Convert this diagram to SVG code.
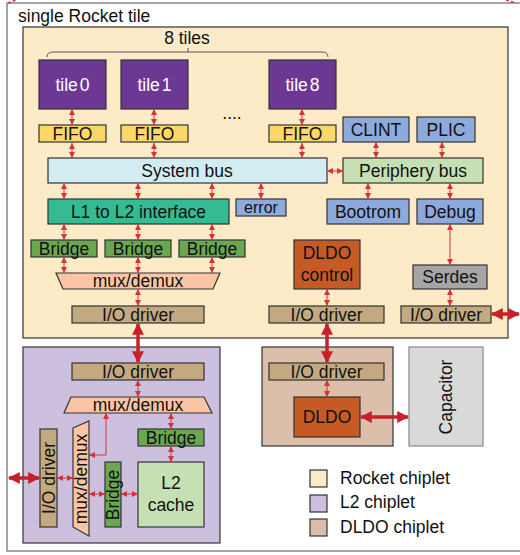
<svg xmlns="http://www.w3.org/2000/svg" width="520" height="555" viewBox="0 0 520 555">
<style>
text{font-family:"Liberation Sans",Arial,sans-serif;font-size:17.5px;fill:#111;text-anchor:middle}
.b{stroke:#333;stroke-width:1.2}
.w{fill:#fff}
.s{fill:none;stroke:#d3333a;stroke-width:1;marker-start:url(#ah);marker-end:url(#ah)}
.t{fill:none;stroke:#c8202a;stroke-width:3.5;marker-start:url(#ahT);marker-end:url(#ahT)}
.tile{fill:#6d3894}
.fifo{fill:#fdd866}
.blue{fill:#8eaadc}
.io{fill:#c3a97f}
.br{fill:#6aa84f}
.mux{fill:#fbc5a5}
.dl{fill:#c65a25}
</style>
<defs>
<marker id="ah" viewBox="0 0 10 10" refX="10" refY="5" markerWidth="6" markerHeight="6" markerUnits="userSpaceOnUse" orient="auto-start-reverse"><path d="M0,0 L10,5 L0,10 z" fill="#d3333a"/></marker>
<marker id="ahT" viewBox="0 0 10 10" refX="9" refY="5" markerWidth="12" markerHeight="12" markerUnits="userSpaceOnUse" orient="auto-start-reverse"><path d="M0,0 L10,5 L0,10 z" fill="#c8202a"/></marker>
</defs>
<rect x="0" y="0" width="520" height="555" fill="#fff"/>
<rect x="7" y="3" width="540" height="548" fill="#fff" stroke="#888" stroke-width="1.5"/>
<path d="M8,3 L16,0 M506,0 L516,3" stroke="#d3333a" stroke-width="1.5" stroke-dasharray="3,2" fill="none"/>
<text x="18" y="22" style="text-anchor:start">single Rocket tile</text>

<g id="rocket-chiplet">
<rect x="23" y="27" width="485" height="311" fill="#fdeac7" class="b"/>
</g>
<g id="l2-chiplet">
<rect x="23" y="347" width="197" height="196" fill="#cdc0df" class="b"/>
</g>
<g id="dldo-chiplet">
<rect x="262" y="347" width="131" height="99" fill="#dbbfab" class="b"/>
</g>

<g id="brace">
<path d="M47,57 Q47,52 53,52 L322,52 Q328,52 328,57 M188,52 V48" fill="none" stroke="#555" stroke-width="1"/>
<text x="187" y="44">8 tiles</text>
</g>

<g id="tile0"><rect x="39" y="60" width="67" height="49" class="b tile"/><text x="72.5" y="91" class="w">tile<tspan dx="2">0</tspan></text></g>
<g id="tile1"><rect x="121" y="60" width="67" height="49" class="b tile"/><text x="154.5" y="91" class="w">tile<tspan dx="2">1</tspan></text></g>
<g id="tile8"><rect x="269" y="60" width="67" height="49" class="b tile"/><text x="302.5" y="91" class="w">tile<tspan dx="2">8</tspan></text></g>
<g id="dots"><text x="232" y="119">....</text></g>

<g id="fifo0"><rect x="39" y="125" width="67" height="17" class="b fifo"/><text x="72.5" y="140">FIFO</text></g>
<g id="fifo1"><rect x="121" y="125" width="67" height="17" class="b fifo"/><text x="154.5" y="140">FIFO</text></g>
<g id="fifo8"><rect x="269" y="125" width="67" height="17" class="b fifo"/><text x="302.5" y="140">FIFO</text></g>
<g id="clint"><rect x="343" y="117" width="66" height="25" class="b blue"/><text x="376" y="136">CLINT</text></g>
<g id="plic"><rect x="417" y="117" width="58" height="25" class="b blue"/><text x="446" y="136">PLIC</text></g>

<g id="system-bus"><rect x="48" y="158" width="279" height="25" fill="#d3ecf2" class="b"/><text x="187" y="177">System bus</text></g>
<g id="periphery-bus"><rect x="343" y="158" width="140" height="25" fill="#c6e0b4" class="b"/><text x="413" y="177">Periphery bus</text></g>

<g id="l1-l2"><rect x="48" y="199" width="181" height="25" fill="#35bb94" class="b"/><text x="138.5" y="217.5">L1 to L2 interface</text></g>
<g id="error"><rect x="236" y="199" width="50" height="17" class="b blue"/><text x="261" y="213" style="font-size:16px">error</text></g>
<g id="bootrom"><rect x="327" y="199" width="82" height="25" class="b blue"/><text x="368" y="217.5">Bootrom</text></g>
<g id="debug"><rect x="417" y="199" width="66" height="25" class="b blue"/><text x="450" y="217.5">Debug</text></g>

<g id="bridge1"><rect x="31" y="240" width="66" height="17" class="b br"/><text x="64" y="255">Bridge</text></g>
<g id="bridge2"><rect x="105" y="240" width="66" height="17" class="b br"/><text x="138" y="255">Bridge</text></g>
<g id="bridge3"><rect x="179" y="240" width="66" height="17" class="b br"/><text x="212" y="255">Bridge</text></g>

<g id="mux-rocket"><polygon points="56,273 220,273 213,289 63,289" class="b mux"/><text x="138" y="287">mux/demux</text></g>
<g id="io-rocket-1"><rect x="72" y="306" width="132" height="17" class="b io"/><text x="138" y="320.5">I/O driver</text></g>

<g id="dldo-control"><rect x="294" y="240" width="66" height="49" class="b dl"/><text x="327" y="259">DLDO</text><text x="327" y="281">control</text></g>
<g id="serdes"><rect x="413" y="265" width="74" height="24" fill="#a6a6a6" class="b"/><text x="450" y="283">Serdes</text></g>
<g id="io-rocket-2"><rect x="269" y="306" width="115" height="17" class="b io"/><text x="326.5" y="320.5">I/O driver</text></g>
<g id="io-rocket-3"><rect x="401" y="306" width="90" height="17" class="b io"/><text x="446" y="320.5">I/O driver</text></g>

<g id="io-l2"><rect x="72" y="363" width="132" height="17" class="b io"/><text x="138" y="377.5">I/O driver</text></g>
<g id="mux-l2"><polygon points="71,397 204,397 212,413 64,413" class="b mux"/><text x="138" y="410.5">mux/demux</text></g>
<g id="bridge-l2"><rect x="138" y="429" width="66" height="17" class="b br"/><text x="171" y="443.5">Bridge</text></g>
<g id="l2-cache"><rect x="138" y="462" width="66" height="65" fill="#c6e0b4" class="b"/><text x="171" y="489">L2</text><text x="171" y="511">cache</text></g>
<g id="io-l2-v"><rect x="40" y="429" width="17" height="98" class="b io"/><text transform="translate(54.5,478) rotate(-90)">I/O driver</text></g>
<g id="mux-l2-v"><polygon points="73,428 89,421 89,536 73,527" class="b mux"/><text transform="translate(87,479) rotate(-90)">mux/demux</text></g>
<g id="bridge-l2-v"><rect x="105" y="462" width="16" height="65" class="b br"/><text transform="translate(119,495) rotate(-90)">Bridge</text></g>

<g id="io-dldo"><rect x="269" y="363" width="115" height="17" class="b io"/><text x="326.5" y="377.5">I/O driver</text></g>
<g id="dldo"><rect x="294" y="397" width="66" height="40" class="b dl"/><text x="327" y="423">DLDO</text></g>
<g id="capacitor"><rect x="409" y="347" width="74" height="99" fill="#d9d9d9" stroke="#888" stroke-width="1.2"/><text transform="translate(452,397) rotate(-90)">Capacitor</text></g>

<g id="legend">
<rect x="310" y="470" width="17" height="17" fill="#fdeac7" class="b"/><text x="340" y="484" style="text-anchor:start">Rocket chiplet</text>
<rect x="310" y="495" width="17" height="17" fill="#cdc0df" class="b"/><text x="340" y="508" style="text-anchor:start">L2 chiplet</text>
<rect x="310" y="519" width="17" height="17" fill="#dbbfab" class="b"/><text x="340" y="533" style="text-anchor:start">DLDO chiplet</text>
</g>

<g id="connectors">
<path class="s" d="M72,109 V125"/>
<path class="s" d="M154,109 V125"/>
<path class="s" d="M302,109 V125"/>
<path class="s" d="M72,143 V158"/>
<path class="s" d="M154,143 V158"/>
<path class="s" d="M302,143 V158"/>
<path class="s" d="M376,142 V158"/>
<path class="s" d="M442,142 V158"/>
<path class="s" d="M327,171 H343"/>
<path class="s" d="M64,183 V199"/>
<path class="s" d="M138,183 V199"/>
<path class="s" d="M212,183 V199"/>
<path class="s" d="M261,183 V199"/>
<path class="s" d="M368,183 V199"/>
<path class="s" d="M450,183 V199"/>
<path class="s" d="M64,224 V240"/>
<path class="s" d="M138,224 V240"/>
<path class="s" d="M212,224 V240"/>
<path class="s" d="M64,257 V273"/>
<path class="s" d="M138,257 V273"/>
<path class="s" d="M212,257 V273"/>
<path class="s" d="M138,289 V306"/>
<path class="s" d="M327,289 V306"/>
<path class="s" d="M450,224 V265"/>
<path class="s" d="M450,289 V306"/>
<path class="s" d="M138,380 V397"/>
<path class="s" d="M171,413 V429"/>
<path class="s" d="M171,446 V462"/>
<path class="s" d="M106,413 V455 H89"/>
<path class="s" d="M57,478 H73"/>
<path class="s" d="M89,494 H105"/>
<path class="s" d="M121,494 H138"/>
<path class="s" d="M327,380 V397"/>
<path class="t" d="M138,324 V362"/>
<path class="t" d="M327,324 V362"/>
<path class="t" d="M492,314 H519"/>
<path class="t" d="M9,478 H39"/>
<path class="t" d="M361,417 H408"/>
</g>
</svg>
